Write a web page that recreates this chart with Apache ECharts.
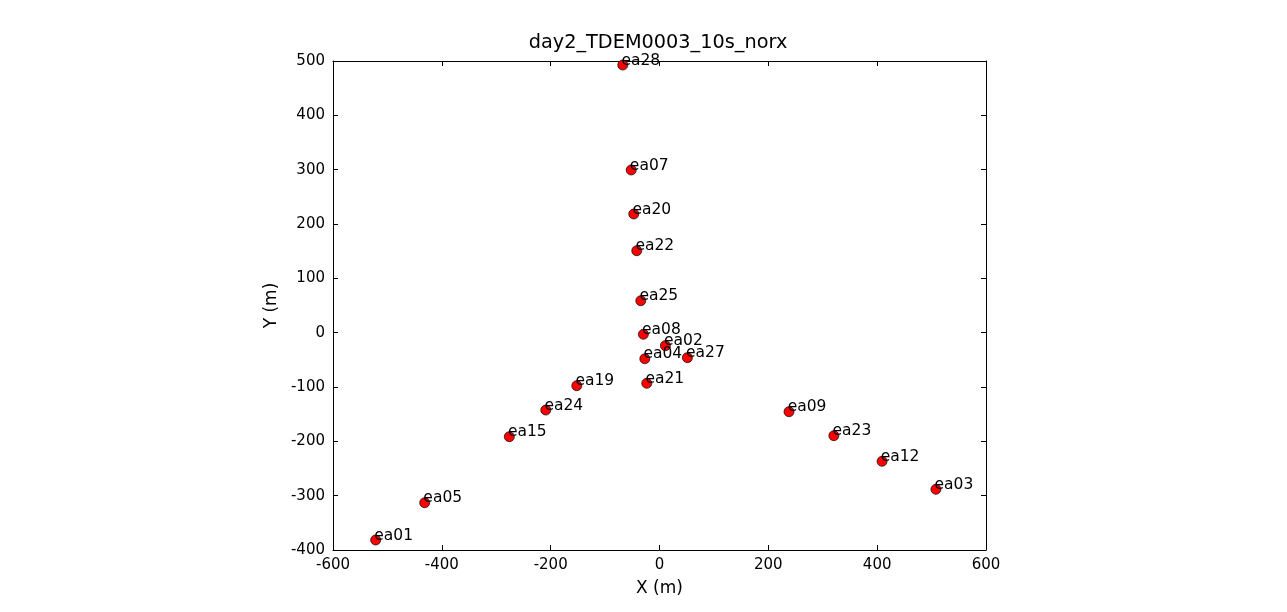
<!DOCTYPE html>
<html>
<head>
<meta charset="utf-8">
<script src="https://cdn.jsdelivr.net/npm/echarts@6/dist/echarts.min.js"></script>
<style>html,body{margin:0;padding:0;background:#fff;}#c{width:1287px;height:612px;}</style>
</head>
<body>
<div id="c"></div>
<script>
var antennas = ['ea28','ea07','ea20','ea22','ea25','ea08','ea02','ea04','ea27','ea21','ea19','ea24','ea15','ea05','ea01','ea09','ea23','ea12','ea03'];
var xPos = [-67.5,-52,-47.3,-41.8,-34.4,-29.6,10.8,-27,51.3,-23.4,-152,-209,-276,-431.5,-521.6,238,320.4,409,508];
var yPos = [492.6,299.4,218.4,150.8,58.8,-3,-24,-48,-46,-93.2,-97.6,-142.4,-191.5,-313,-381.6,-145.5,-189.6,-236.8,-288.3];
var xTicks = [-600,-400,-200,0,200,400,600];
var yTicks = [-400,-300,-200,-100,0,100,200,300,400,500];

var pts = antennas.map(function(n,i){ return [xPos[i], yPos[i], n]; });
var font = 'DejaVu Sans';
var chart = echarts.init(document.getElementById('c'));
function ax(min,max,interval,show,extra){
  var o = {type:'value',min:min,max:max,interval:interval,
    axisLine:{show:true,onZero:false,lineStyle:{color:'#000',width:1}},
    axisTick:{show:true,inside:true,length:5,lineStyle:{color:'#000'}},
    splitLine:{show:false},
    axisLabel:{show:show,color:'#000',fontFamily:font,fontSize:15,margin:8,
      formatter:function(v){return String(v);}}};
  for (var k in extra) o[k]=extra[k];
  return o;
}
chart.setOption({
  animation:false,
  backgroundColor:'#fff',
  title:{text:'day2_TDEM0003_10s_norx',left:653,textAlign:'center',top:28,
    textStyle:{fontFamily:font,fontSize:19.3,fontWeight:'normal',color:'#000'}},
  grid:{left:333,right:301,top:61,bottom:62},
  xAxis:[
    ax(xTicks[0],xTicks[xTicks.length-1],200,true,{position:'bottom',name:'X (m)',nameLocation:'middle',nameGap:30,
      nameTextStyle:{fontFamily:font,fontSize:17,color:'#000'}}),
    ax(xTicks[0],xTicks[xTicks.length-1],200,false,{position:'top'})
  ],
  yAxis:[
    ax(yTicks[0],yTicks[yTicks.length-1],100,true,{position:'left',name:'Y (m)',nameLocation:'middle',nameGap:46,
      nameTextStyle:{fontFamily:font,fontSize:17,color:'#000'}}),
    ax(yTicks[0],yTicks[yTicks.length-1],100,false,{position:'right'})
  ],
  series:[{
    type:'scatter',
    data:pts,
    symbol:'circle',
    symbolSize:10,
    itemStyle:{color:'#ff0000',borderColor:'#000',borderWidth:0.7,opacity:1},
    label:{show:true,position:[4,9],align:'left',verticalAlign:'bottom',
      fontFamily:font,fontSize:15.5,color:'#000',
      formatter:function(p){return p.data[2];}},
    emphasis:{disabled:true}
  }]
});
</script>
</body>
</html>
